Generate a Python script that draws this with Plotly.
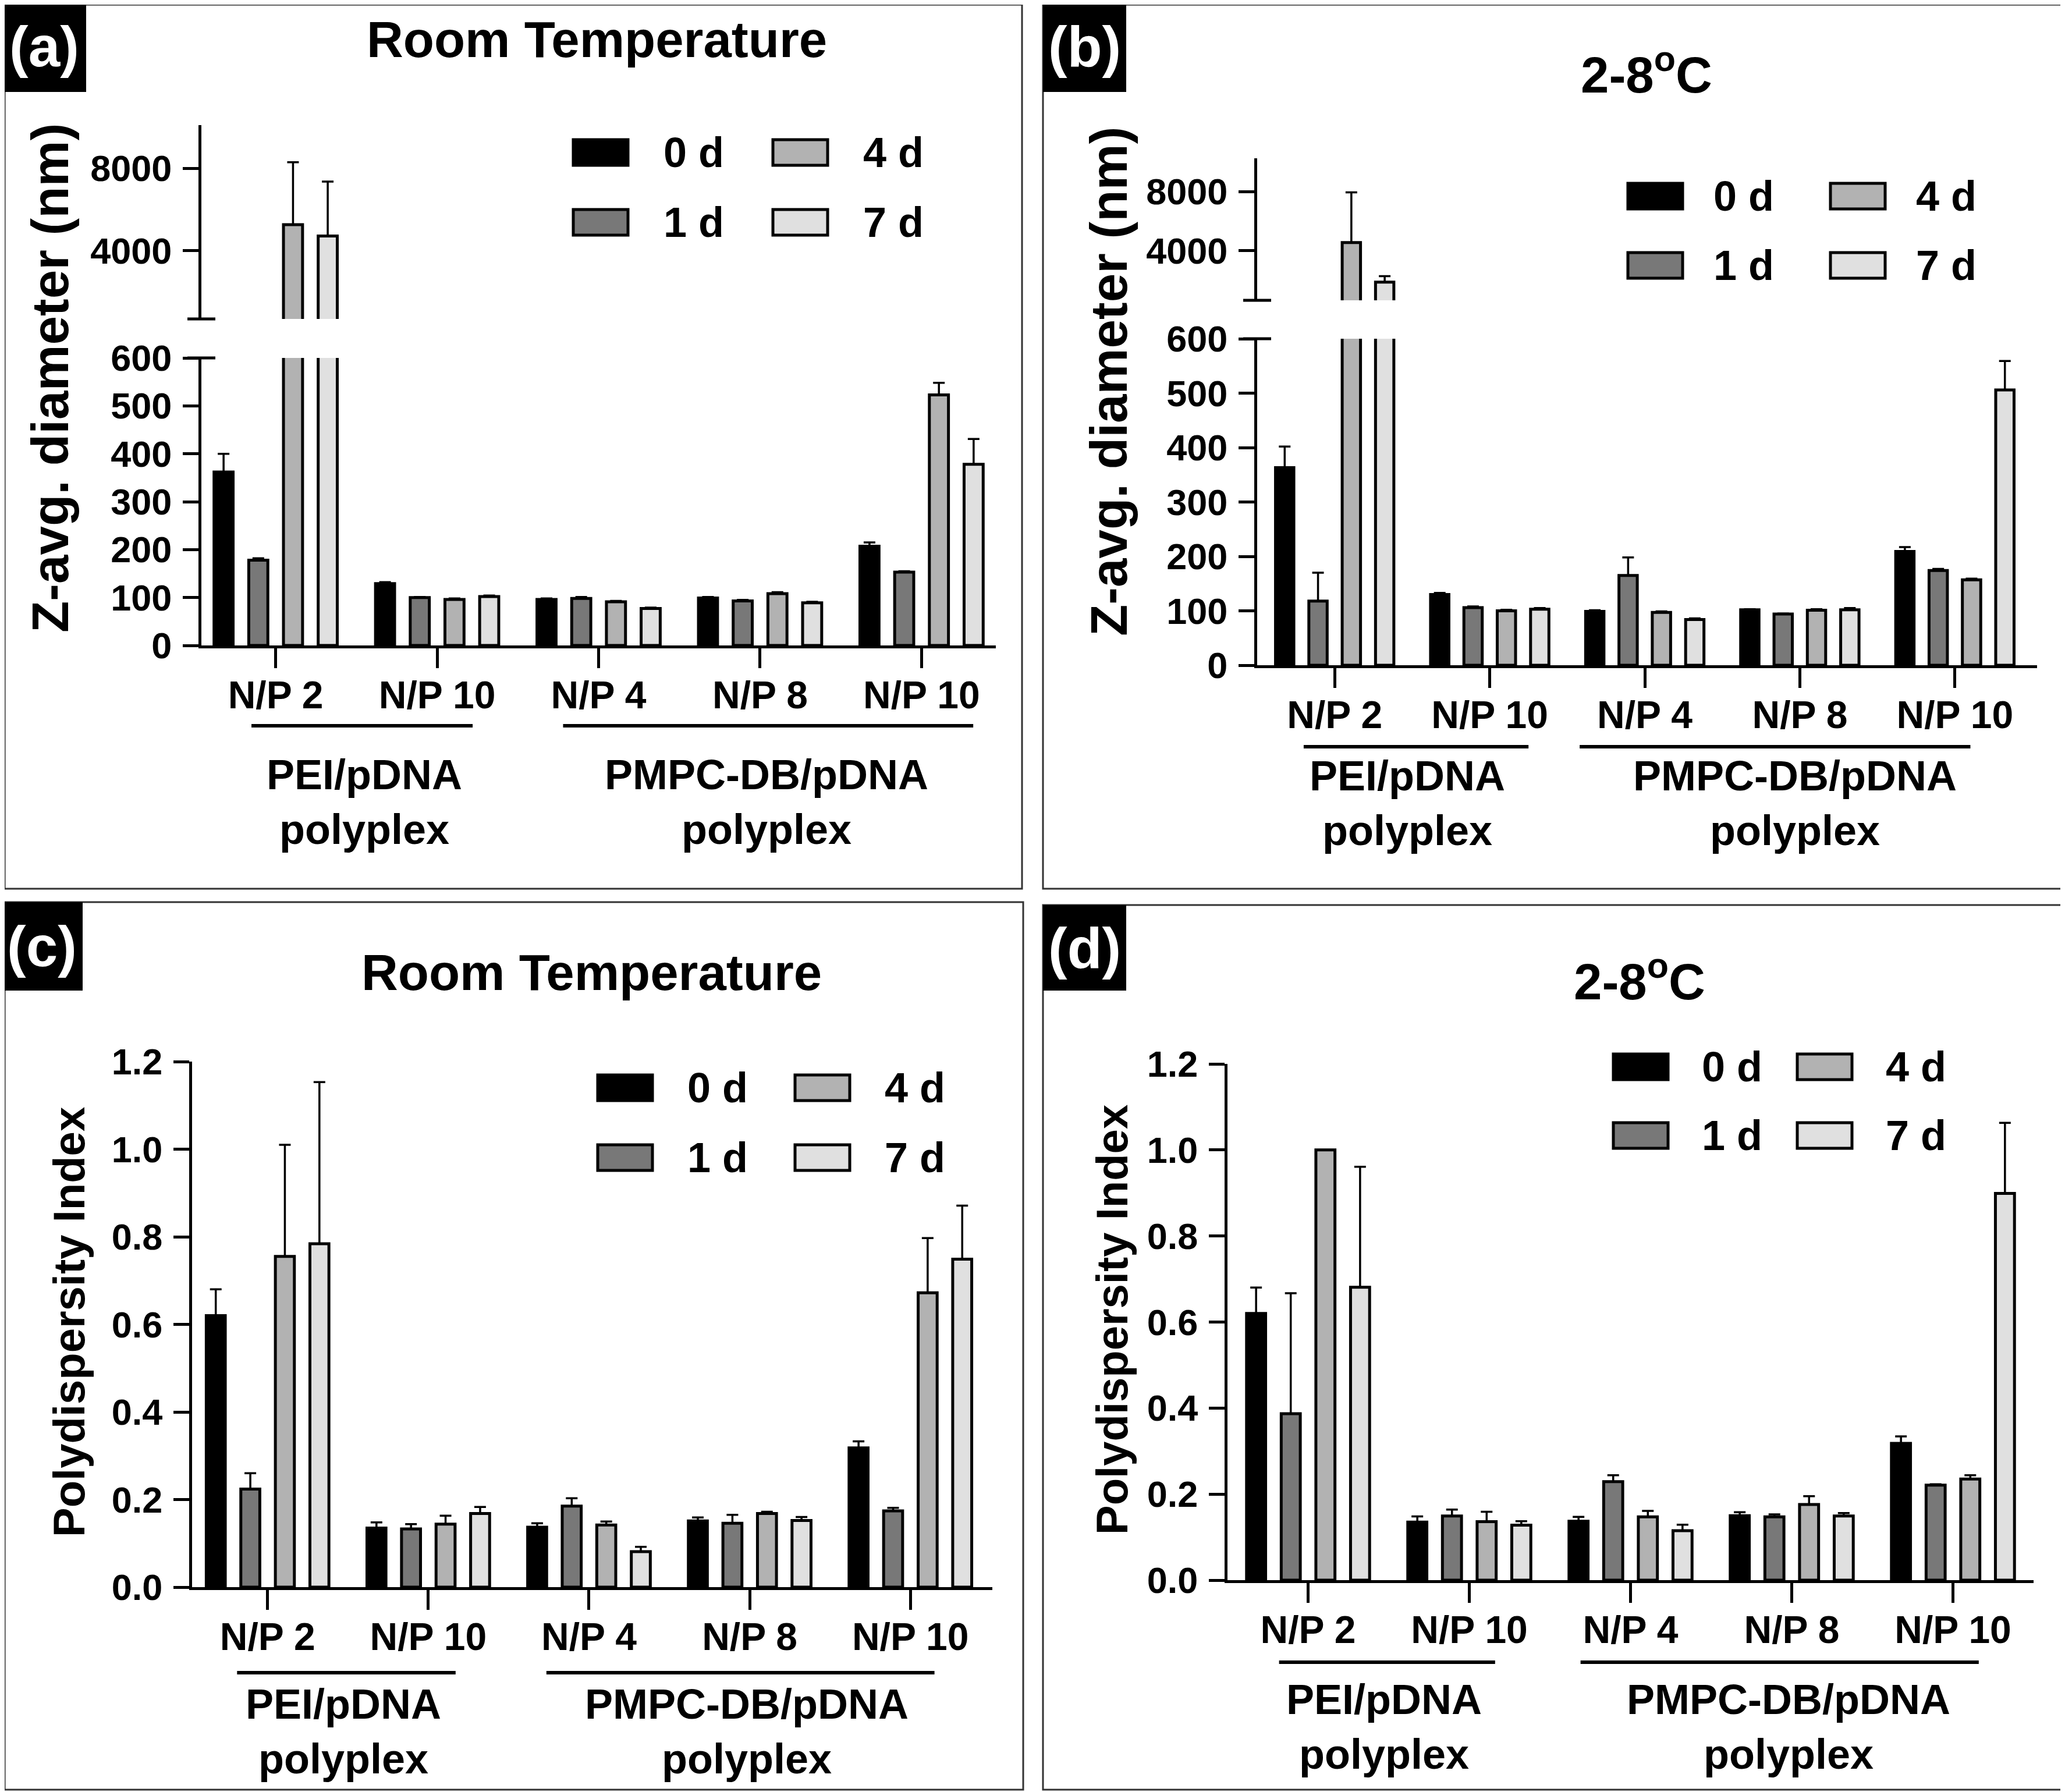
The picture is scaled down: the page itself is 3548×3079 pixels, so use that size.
import plotly.graph_objects as go

# ---------------- data ----------------
categories = ["N/P 2", "N/P 10", "N/P 4", "N/P 8", "N/P 10"]
series_names = ["0 d", "1 d", "4 d", "7 d"]
series_colors = ["#000000", "#787878", "#b2b2b2", "#e0e0e0"]
group_names = ["PEI/pDNA<br>polyplex", "PMPC-DB/pDNA<br>polyplex"]

# (a) Z-avg diameter, room temperature (nm)
za_0d = [362, 129, 96, 99, 207]
za_1d = [178, 100, 98, 93, 153]
za_4d = [5270, 96, 91, 108, 523]
za_7d = [4720, 102, 77, 89, 378]
za_0d_err = [38, 3, 2, 2, 8]
za_1d_err = [4, 1, 3, 2, 2]
za_4d_err = [3030, 2, 2, 3, 25]
za_7d_err = [2640, 2, 2, 2, 53]

# (b) Z-avg diameter, 2-8 C (nm)
zb_0d = [363, 130, 99, 102, 209]
zb_1d = [118, 106, 165, 94, 174]
zb_4d = [4550, 100, 97, 101, 157]
zb_7d = [1880, 103, 84, 102, 506]
zb_0d_err = [39, 3, 2, 1, 8]
zb_1d_err = [52, 2, 33, 1, 3]
zb_4d_err = [3400, 2, 2, 2, 2]
zb_7d_err = [400, 2, 2, 3, 53]

# (c) PDI, room temperature
pc_0d = [0.620, 0.135, 0.137, 0.151, 0.318]
pc_1d = [0.224, 0.133, 0.185, 0.146, 0.174]
pc_4d = [0.755, 0.144, 0.142, 0.168, 0.672]
pc_7d = [0.784, 0.168, 0.081, 0.152, 0.749]
pc_0d_err = [0.060, 0.013, 0.009, 0.008, 0.015]
pc_1d_err = [0.036, 0.011, 0.018, 0.019, 0.007]
pc_4d_err = [0.255, 0.019, 0.008, 0.004, 0.125]
pc_7d_err = [0.369, 0.015, 0.011, 0.008, 0.122]

# (d) PDI, 2-8 C
pd_0d = [0.620, 0.135, 0.137, 0.150, 0.318]
pd_1d = [0.387, 0.149, 0.229, 0.147, 0.221]
pd_4d = [1.000, 0.136, 0.147, 0.176, 0.235]
pd_7d = [0.681, 0.128, 0.115, 0.149, 0.899]
pd_0d_err = [0.060, 0.013, 0.010, 0.008, 0.016]
pd_1d_err = [0.280, 0.015, 0.015, 0.006, 0.002]
pd_4d_err = [0.000, 0.023, 0.014, 0.019, 0.009]
pd_7d_err = [0.280, 0.009, 0.014, 0.007, 0.164]

# ---------------- layout helpers ----------------
W, H = 3548, 3079
OFF = 8  # page body margin
FONT = "Liberation Sans, Arial, Helvetica, sans-serif"


def fx(x):
    return min(1.0, max(0.0, (x - OFF) / W))


def fy(y):
    return min(1.0, max(0.0, 1 - (y - OFF) / H))


xpos = list(range(len(categories)))

panels = [
    dict(tag="(a)", title="Room Temperature", xa="x", ya=["y", "y2"],
         vals=[za_0d, za_1d, za_4d, za_7d],
         errs=[za_0d_err, za_1d_err, za_4d_err, za_7d_err]),
    dict(tag="(b)", title="2-8<sup>o</sup>C", xa="x2", ya=["y3", "y4"],
         vals=[zb_0d, zb_1d, zb_4d, zb_7d],
         errs=[zb_0d_err, zb_1d_err, zb_4d_err, zb_7d_err]),
    dict(tag="(c)", title="Room Temperature", xa="x3", ya=["y5"],
         vals=[pc_0d, pc_1d, pc_4d, pc_7d],
         errs=[pc_0d_err, pc_1d_err, pc_4d_err, pc_7d_err]),
    dict(tag="(d)", title="2-8<sup>o</sup>C", xa="x4", ya=["y6"],
         vals=[pd_0d, pd_1d, pd_4d, pd_7d],
         errs=[pd_0d_err, pd_1d_err, pd_4d_err, pd_7d_err]),
]

# geometry (pixels) per panel
geo = [
    dict(box=[4, 2, 1756, 1527], lab=[4, 2, 148, 158], x=[346, 1711], xr=[-0.46, 4.46],
         ylow=[1109, 615], yup=[548, 215], title=[1025, 68],
         ytitle=["Z-avg. diameter (nm)", 86, 650, 89],
         glines=[[-0.15, 1.22], [1.78, 4.32]], gline_y=1247, glab_y=1378,
         glab_x=[0.55, 3.04],
         legx=[985, 1328], legy=[262, 382], legdx=153),
    dict(box=[1792, 2, 3544, 1527], lab=[1792, 2, 1935, 158], x=[2160, 3500], xr=[-0.5, 4.53],
         ylow=[1143, 582], yup=[516, 272], title=[2829, 122],
         ytitle=["Z-avg. diameter (nm)", 1905, 656, 89],
         glines=[[-0.2, 1.25], [1.58, 4.1]], gline_y=1283, glab_y=1380,
         glab_x=[0.47, 2.97],
         legx=[2797, 3145], legy=[337, 456], legdx=145),
    dict(box=[2, 1550, 1758, 3075], lab=[2, 1550, 142, 1702], x=[330, 1705], xr=[-0.47, 4.51],
         ylow=[2727, 1824], yup=None, title=[1016, 1670],
         ytitle=["Polydispersity Index", 118, 2272, 76],
         glines=[[-0.19, 1.17], [1.735, 4.15]], gline_y=2874, glab_y=2975,
         glab_x=[0.47, 2.98],
         legx=[1027, 1366], legy=[1869, 1989], legdx=152),
    dict(box=[1792, 1555, 3544, 3075], lab=[1792, 1555, 1935, 1702], x=[2109, 3494], xr=[-0.5, 4.5],
         ylow=[2715, 1828], yup=None, title=[2817, 1680],
         ytitle=["Polydispersity Index", 1910, 2268, 76],
         glines=[[-0.18, 1.16], [1.69, 4.16]], gline_y=2856, glab_y=2967,
         glab_x=[0.47, 2.98],
         legx=[2772, 3088], legy=[1833, 1951], legdx=150),
]

fig = go.Figure()

for p in panels:
    for ya in p["ya"]:
        for i, name in enumerate(series_names):
            fig.add_trace(go.Bar(
                x=xpos, y=p["vals"][i], name=name,
                xaxis=p["xa"], yaxis=ya, showlegend=False,
                marker=dict(color=series_colors[i],
                            line=dict(color="black", width=5)),
                error_y=dict(type="data", symmetric=False,
                             array=p["errs"][i],
                             arrayminus=[0] * len(xpos),
                             color="black", thickness=3.5, width=10),
            ))

axis_common = dict(showgrid=False, zeroline=False, showline=True,
                   linecolor="black", linewidth=5, ticks="outside",
                   tickcolor="black", tickwidth=5, automargin=False,
                   tickfont=dict(family=FONT, size=63, color="black", weight="bold"))

layout = dict(
    width=W, height=H,
    margin=dict(l=0, r=0, t=0, b=0, pad=0, autoexpand=False),
    paper_bgcolor="white", plot_bgcolor="rgba(0,0,0,0)",
    barmode="group", bargap=0.14, bargroupgap=0.45,
    showlegend=False,
    font=dict(family=FONT, color="black", weight="bold"),
)

ylow_ranges = [[0, 600], [0, 600], [0, 1.2], [0, 1.2]]
yup_ranges = [[690, 10100], [650, 10250]]

shapes = []
annotations = []

for k, (p, g) in enumerate(zip(panels, geo)):
    xn = "xaxis" if p["xa"] == "x" else "xaxis" + p["xa"][1:]
    yl = p["ya"][0]
    yln = "yaxis" if yl == "y" else "yaxis" + yl[1:]
    layout[xn] = dict(axis_common, domain=[fx(g["x"][0]), fx(g["x"][1])],
                      anchor=yl, range=g["xr"], tickvals=xpos,
                      ticktext=categories, ticklen=34, ticklabelstandoff=-10,
                      tickfont=dict(family=FONT, size=66, color="black", weight="bold"))
    ylow_dict = dict(axis_common, domain=[fy(g["ylow"][0]), fy(g["ylow"][1])],
                     anchor=p["xa"], range=ylow_ranges[k], ticklen=27,
                     ticklabelstandoff=6)
    if k < 2:
        ylow_dict.update(tickvals=[0, 100, 200, 300, 400, 500, 600])
    else:
        ylow_dict.update(tickvals=[0, 0.2, 0.4, 0.6, 0.8, 1.0, 1.2],
                         tickformat=".1f")
    layout[yln] = ylow_dict
    if g["yup"] is not None:
        yu = p["ya"][1]
        yun = "yaxis" + yu[1:]
        layout[yun] = dict(axis_common, domain=[fy(g["yup"][0]), fy(g["yup"][1])],
                           anchor=p["xa"], range=yup_ranges[k], ticklen=27,
                           tickvals=[4000, 8000], ticklabelstandoff=6)
        # axis break caps
        ax_x = g["x"][0]
        for yy in (g["ylow"][1], g["yup"][0]):
            shapes.append(dict(type="line", xref="paper", yref="paper",
                               x0=fx(ax_x - 24), x1=fx(ax_x + 24),
                               y0=fy(yy), y1=fy(yy),
                               line=dict(color="black", width=5)))

    # panel border
    b = g["box"]
    shapes.append(dict(type="rect", xref="paper", yref="paper",
                       x0=fx(b[0]), x1=fx(b[2]), y0=fy(b[3]), y1=fy(b[1]),
                       line=dict(color="#333333", width=3), layer="below"))
    # tag box
    lb = g["lab"]
    shapes.append(dict(type="rect", xref="paper", yref="paper",
                       x0=fx(lb[0]), x1=fx(lb[2]), y0=fy(lb[3]), y1=fy(lb[1]),
                       line=dict(width=0), fillcolor="black"))
    annotations.append(dict(text=p["tag"], xref="paper", yref="paper",
                            x=fx((lb[0] + lb[2]) / 2), y=fy((lb[1] + lb[3]) / 2),
                            xanchor="center", yanchor="middle", showarrow=False,
                            font=dict(family=FONT, size=98, color="white", weight="bold")))
    # title
    annotations.append(dict(text=p["title"], xref="paper", yref="paper",
                            x=fx(g["title"][0]), y=fy(g["title"][1]),
                            xanchor="center", yanchor="middle", showarrow=False,
                            font=dict(family=FONT, size=87, color="black", weight="bold")))
    # y-axis title
    yt = g["ytitle"]
    annotations.append(dict(text=yt[0], xref="paper", yref="paper",
                            x=fx(yt[1]), y=fy(yt[2]), textangle=-90,
                            xanchor="center", yanchor="middle", showarrow=False,
                            font=dict(family=FONT, size=yt[3], color="black", weight="bold")))
    # group lines + labels
    for gi, (gx0, gx1) in enumerate(g["glines"]):
        shapes.append(dict(type="line", xref=p["xa"], yref="paper",
                           x0=gx0, x1=gx1, y0=fy(g["gline_y"]), y1=fy(g["gline_y"]),
                           line=dict(color="black", width=6)))
        annotations.append(dict(text=group_names[gi], xref=p["xa"], yref="paper",
                                x=g["glab_x"][gi], y=fy(g["glab_y"]),
                                xanchor="center", yanchor="middle", showarrow=False,
                                align="center",
                                font=dict(family=FONT, size=72, color="black", weight="bold")))
    # legend (two columns: 0 d / 1 d , 4 d / 7 d)
    for i, name in enumerate(series_names):
        col, row = i // 2, i % 2
        lx = g["legx"][col]
        cy = g["legy"][row]
        shapes.append(dict(type="rect", xref="paper", yref="paper",
                           x0=fx(lx), x1=fx(lx + 94),
                           y0=fy(cy + 22), y1=fy(cy - 22),
                           fillcolor=series_colors[i],
                           line=dict(color="black", width=5)))
        annotations.append(dict(text=name, xref="paper", yref="paper",
                                x=fx(lx + g["legdx"]), y=fy(cy),
                                xanchor="left", yanchor="middle", showarrow=False,
                                font=dict(family=FONT, size=72, color="black", weight="bold")))

layout["shapes"] = shapes
layout["annotations"] = annotations
fig.update_layout(**layout)

fig.write_html("out.html")
